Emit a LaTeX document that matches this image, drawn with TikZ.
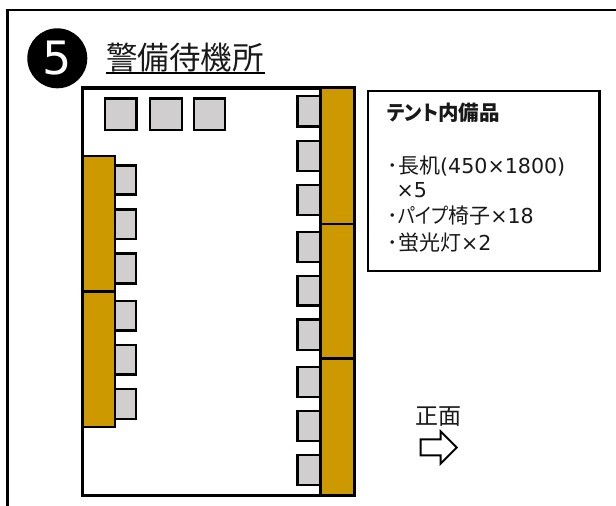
\documentclass[tikz,border=0pt]{standalone}
\usepackage{graphicx}
\usepackage{fontspec}
\setmainfont{DejaVu Sans}
\newfontfamily\cjk{Noto Sans CJK JP}
\newfontfamily\cjkprop[RawFeature=+palt]{Noto Sans CJK JP}
\newcommand{\lat}[1]{{\fontsize{20.6}{22}\selectfont\fontspec{DejaVu Sans}#1}}
\definecolor{tablecol}{HTML}{CC9900}
\definecolor{chaircol}{HTML}{D0CECE}
\tikzset{
  framelne/.style={draw=black,line width=2.2pt},
  roomline/.style={draw=black,line width=3.2pt},
  tablebox/.style={draw=black,line width=2.6pt,fill=tablecol},
  chairbox/.style={draw=black,line width=2.4pt,fill=chaircol},
  listbox/.style={draw=black,line width=2.6pt,fill=white},
  listtext/.style={anchor=base west,inner sep=0pt,font=\fontsize{21}{23}\selectfont\cjk,text=black!90},
}
\begin{document}
\begin{tikzpicture}[x=1pt,y=-1pt]
\useasboundingbox (0,0) rectangle (616,506);
\fill[white] (0,0) rectangle (616,506);
% outer frame (open to right and bottom)
\draw[framelne] (7.5,506) -- (7.5,10) -- (616,10);
% badge and title
\node[circle,fill=black,minimum size=60pt,inner sep=0pt,text=white,font=\fontsize{46}{50}\selectfont] (badge) at (57.3,58.3) {5};
\node[anchor=base west,inner sep=0pt,font=\fontsize{31.5}{34}\selectfont\cjk,text=black!90] (title) at (106,69) {警備待機所};
\draw[black,line width=1.6pt] (106,73) -- (265,73);
% room
\draw[roomline] (82.5,88) rectangle (354.5,495.5);
% top chairs
\foreach \xa/\xb in {105/136.5,150/182,194/225}
  \draw[chairbox] (\xa,98.5) rectangle (\xb,130);
% right chairs
\foreach \ya/\yb in {96/126.5,140.7/170.7,184.7/214.7,231.7/261.7,275.7/305.5,319.5/350,366.7/396.7,411/440.7,455/484.7}
  \draw[chairbox] (297.5,\ya) rectangle (320.5,\yb);
% right tables
\foreach \ya/\yb in {88/224,224/358.5,358.5/495}
  \draw[tablebox] (320.5,\ya) rectangle (354.5,\yb);
% left chairs
\foreach \ya/\yb in {165.3/194.3,209.3/238.7,253.3/283.3,301/330.3,345/374.3,389/418.7}
  \draw[chairbox] (115,\ya) rectangle (135.7,\yb);
% left tables
\foreach \ya/\yb in {156/291.7,291.7/427}
  \draw[tablebox] (82.5,\ya) rectangle (115,\yb);
% equipment list
\draw[listbox] (368,91) rectangle (599.5,271);
\node[listtext,font=\fontsize{20.5}{22}\selectfont\bfseries\cjk] (head) at (387,120.5) {\scalebox{0.93}[1]{\cjkprop\bfseries テント}内備品};
\node[listtext] (l1) at (387.5,173.5) {･長机\lat{(450×1800)}};
\node[listtext] (l2) at (396.5,197.5) {\lat{×5}};
\node[listtext] (l3) at (387.5,223.5) {･\scalebox{0.87}[1]{\cjkprop パイプ}椅子\lat{×18}};
\node[listtext] (l4) at (387.5,250.5) {･蛍光灯\lat{×2}};
% front arrow
\node[anchor=base,inner sep=0pt,font=\fontsize{23}{25}\selectfont\cjk,text=black!90] (front) at (438.8,424) {正面};
\draw[black,line width=2pt,fill=white,line join=miter] (420.7,439.3) -- (440.7,439.3) -- (440.7,431.5) -- (456.7,447.5) -- (440.7,463.5) -- (440.7,455.3) -- (420.7,455.3) -- cycle;
\end{tikzpicture}
\end{document}
